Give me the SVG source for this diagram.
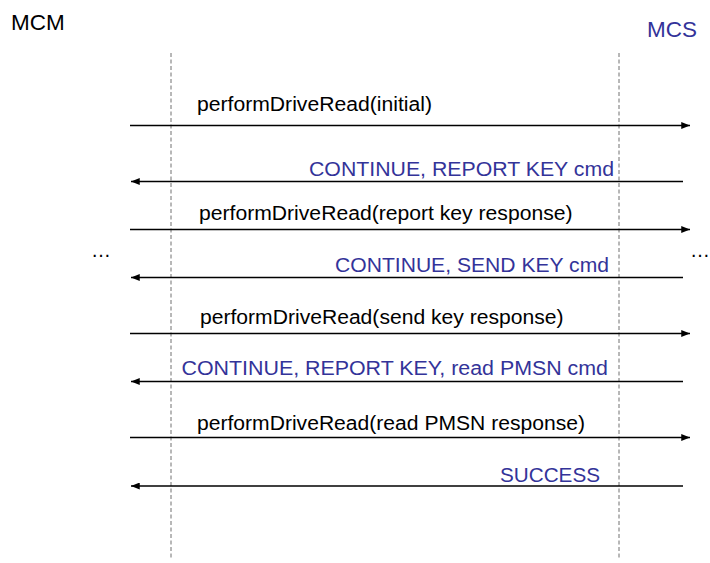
<svg xmlns="http://www.w3.org/2000/svg" width="710" height="563" viewBox="0 0 710 563">
<defs>
<style>
text{font-family:"Liberation Sans",Arial,sans-serif;font-size:20px;fill:#000}
.blue{fill:#333399}
.title{font-size:22.5px}
.life{stroke:#707070;stroke-width:1;stroke-dasharray:4 2.5;fill:none}
.msg{stroke:#000;stroke-width:1.3;fill:none}
.r{marker-end:url(#ah)}
</style>
<marker id="ah" viewBox="0 0 10 8" refX="10" refY="4" markerWidth="10" markerHeight="7" markerUnits="userSpaceOnUse" orient="auto">
<path d="M0,0 L10,4 L0,8 Z" fill="#000"/>
</marker>
</defs>
<rect width="710" height="563" fill="#fff"/>
<g id="MCM">
<text class="title" x="11" y="30">MCM</text>
<line class="life" x1="171" y1="53" x2="171" y2="560"/>
<text x="91" y="257">…</text>
</g>
<g id="MCS">
<text class="title blue" x="697" y="37" text-anchor="end">MCS</text>
<line class="life" x1="619" y1="53" x2="619" y2="560"/>
<text x="690" y="257">…</text>
</g>
<g id="connectors">
<line class="msg r" x1="130" y1="125.5" x2="690" y2="125.5"/>
<line class="msg r" x1="683" y1="181.5" x2="131" y2="181.5"/>
<line class="msg r" x1="130" y1="229.5" x2="690" y2="229.5"/>
<line class="msg r" x1="683" y1="277.5" x2="131" y2="277.5"/>
<line class="msg r" x1="130" y1="333.5" x2="690" y2="333.5"/>
<line class="msg r" x1="683" y1="381.5" x2="131" y2="381.5"/>
<line class="msg r" x1="130" y1="437.5" x2="690" y2="437.5"/>
<line class="msg r" x1="683" y1="486" x2="131" y2="486"/>
<text x="197" y="111" textLength="235" lengthAdjust="spacingAndGlyphs">performDriveRead(initial)</text>
<text class="blue" x="614" y="176" text-anchor="end" textLength="305" lengthAdjust="spacingAndGlyphs">CONTINUE, REPORT KEY cmd</text>
<text x="199" y="220" textLength="373.5" lengthAdjust="spacingAndGlyphs">performDriveRead(report key response)</text>
<text class="blue" x="609" y="272" text-anchor="end" textLength="274" lengthAdjust="spacingAndGlyphs">CONTINUE, SEND KEY cmd</text>
<text x="200" y="324" textLength="363.5" lengthAdjust="spacingAndGlyphs">performDriveRead(send key response)</text>
<text class="blue" x="608" y="375" text-anchor="end" textLength="426.5" lengthAdjust="spacingAndGlyphs">CONTINUE, REPORT KEY, read PMSN cmd</text>
<text x="197" y="430" textLength="388" lengthAdjust="spacingAndGlyphs">performDriveRead(read PMSN response)</text>
<text class="blue" x="600" y="482" text-anchor="end" textLength="100" lengthAdjust="spacingAndGlyphs">SUCCESS</text>
</g>
</svg>
